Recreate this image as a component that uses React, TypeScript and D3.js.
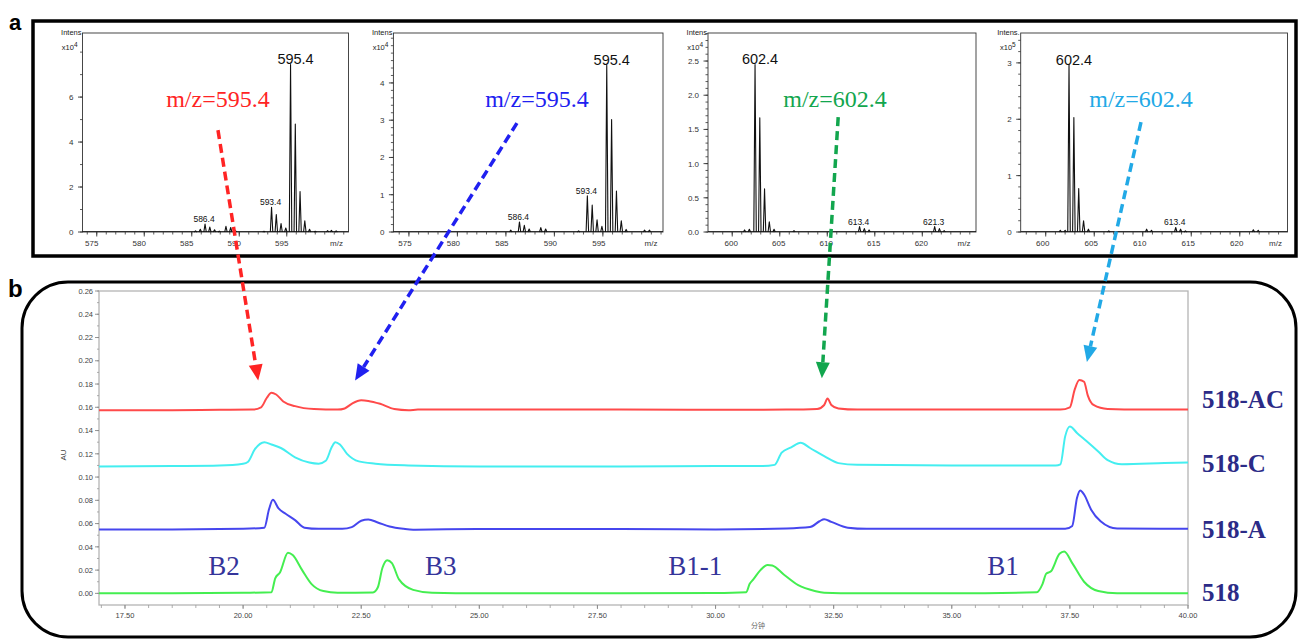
import React from "react";
import * as d3 from "d3";

type P = [number, number];

// ---------- panel a: mass spectra, [m/z, intensity] ----------
const spec1Peaks: P[] = [
  [585.4, 0.05], [585.9, 0.12], [586.4, 0.35], [586.9, 0.22], [587.4, 0.1], [587.9, 0.04],
  [588.6, 0.25], [589.1, 0.2], [589.6, 0.06], [592.6, 0.03], [593.4, 1.1], [593.9, 0.78],
  [594.4, 0.38], [594.9, 0.18], [595.4, 7.45], [595.9, 4.8], [596.4, 1.8], [596.9, 0.5],
  [597.4, 0.12], [598.0, 0.03], [599.3, 0.06], [599.7, 0.07], [600.2, 0.05],
];
const spec2Peaks: P[] = [
  [585.5, 0.05], [586.4, 0.27], [586.9, 0.18], [587.4, 0.08], [588.6, 0.12], [589.1, 0.08],
  [592.5, 0.03], [593.4, 0.97], [593.9, 0.72], [594.4, 0.33], [594.9, 0.15], [595.4, 4.47],
  [595.9, 3.02], [596.4, 1.1], [596.9, 0.3], [597.4, 0.07], [599.3, 0.05], [599.8, 0.05],
];
const spec3Peaks: P[] = [
  [601.3, 0.03], [601.8, 0.04], [602.4, 2.45], [602.9, 1.67], [603.4, 0.63], [603.9, 0.15],
  [604.4, 0.04], [606.5, 0.02], [610.4, 0.03], [613.4, 0.08], [613.9, 0.05], [614.4, 0.03],
  [621.3, 0.08], [621.8, 0.05], [622.3, 0.02],
];
const spec4Peaks: P[] = [
  [601.5, 0.03], [602.0, 0.03], [602.4, 2.97], [602.9, 2.03], [603.4, 0.77], [603.9, 0.2],
  [604.4, 0.05], [606.5, 0.02], [610.4, 0.05], [610.9, 0.03], [613.4, 0.08], [613.9, 0.05],
  [614.4, 0.02], [621.4, 0.04], [621.9, 0.03],
];

const spec1Labels = ["595.4", "593.4", "586.4"];
const spec2Labels = ["595.4", "593.4", "586.4"];
const spec3Labels = ["602.4", "613.4", "621.3"];
const spec4Labels = ["602.4", "613.4"];

const ionLabels = ["m/z=595.4", "m/z=595.4", "m/z=602.4", "m/z=602.4"];
const ionColors = ["#ff2424", "#2020f0", "#12a64e", "#22a9e6"];
// where the ion text sits and where its arrow starts, in spectrum units
const ionTextAt: P[] = [[587.76, 5.55], [588.2, 3.35], [610.82, 1.83], [609.82, 2.22]];
const arrowFrom: P[] = [[587.76, 4.53], [586.14, 2.92], [611.15, 1.68], [609.82, 1.95]];
// arrow tips in chromatogram units [min, AU]
const arrowTo: P[] = [[20.32, 0.183], [22.37, 0.183], [32.25, 0.185], [37.86, 0.199]];

// ---------- panel b: HPLC traces, [min, AU] ----------
const trace518AC: P[] = [
  [16.95, 0.1575], [18.5, 0.1575], [19.5, 0.1578], [20.2, 0.158], [20.38, 0.16], [20.5, 0.168],
  [20.6, 0.1725], [20.7, 0.171], [20.85, 0.165], [21.1, 0.161], [21.5, 0.1585], [22.0, 0.158],
  [22.15, 0.159], [22.3, 0.163], [22.5, 0.166], [22.65, 0.1655], [22.9, 0.163], [23.2, 0.1585],
  [23.5, 0.1575], [23.7, 0.158], [25, 0.158], [28, 0.158], [30, 0.1578], [31.5, 0.158],
  [32.15, 0.1585], [32.3, 0.162], [32.37, 0.1675], [32.45, 0.162], [32.6, 0.159], [33, 0.158],
  [35, 0.158], [37.3, 0.158], [37.5, 0.16], [37.6, 0.175], [37.7, 0.1835], [37.8, 0.182],
  [37.88, 0.17], [38.0, 0.162], [38.3, 0.1585], [39, 0.158], [40, 0.158],
];
const trace518C: P[] = [
  [16.95, 0.109], [18.5, 0.1095], [19.5, 0.11], [20.0, 0.1115], [20.1, 0.113], [20.25, 0.124],
  [20.45, 0.13], [20.6, 0.128], [20.8, 0.125], [21.1, 0.117], [21.4, 0.1125], [21.6, 0.1115],
  [21.75, 0.114], [21.88, 0.126], [21.95, 0.13], [22.05, 0.128], [22.2, 0.12], [22.45, 0.1135],
  [22.8, 0.1115], [23.5, 0.11], [25, 0.109], [28, 0.109], [30, 0.1095], [31.0, 0.1095],
  [31.25, 0.1105], [31.4, 0.121], [31.6, 0.1255], [31.8, 0.1295], [32.0, 0.125], [32.3, 0.118],
  [32.6, 0.112], [33, 0.1105], [35, 0.11], [37.2, 0.11], [37.3, 0.111], [37.4, 0.135],
  [37.5, 0.1435], [37.65, 0.138], [37.85, 0.131], [38.1, 0.122], [38.3, 0.1145], [38.6, 0.111],
  [39.5, 0.112], [40, 0.1125],
];
const trace518A: P[] = [
  [16.95, 0.055], [18.5, 0.055], [20.0, 0.0555], [20.45, 0.0565], [20.55, 0.0725], [20.63, 0.0805],
  [20.75, 0.073], [20.9, 0.0685], [21.1, 0.063], [21.3, 0.0565], [21.6, 0.0555], [22.1, 0.0555],
  [22.3, 0.057], [22.5, 0.0625], [22.65, 0.0635], [22.85, 0.061], [23.1, 0.0575], [23.4, 0.0555],
  [23.6, 0.0548], [25, 0.0553], [28, 0.0553], [30, 0.055], [31.5, 0.0558], [32.0, 0.057],
  [32.2, 0.062], [32.3, 0.0638], [32.45, 0.0615], [32.8, 0.0565], [33.2, 0.0555], [35, 0.0555],
  [37.4, 0.0555], [37.55, 0.058], [37.65, 0.082], [37.72, 0.0885], [37.8, 0.085], [37.95, 0.072],
  [38.15, 0.062], [38.5, 0.0558], [40, 0.0555],
];
const trace518: P[] = [
  [16.95, 0.0], [18.5, 0.0], [20.0, 0.0005], [20.6, 0.001], [20.68, 0.013], [20.78, 0.018],
  [20.95, 0.035], [21.05, 0.033], [21.25, 0.02], [21.45, 0.008], [21.7, 0.002], [22.0, 0.0005],
  [22.75, 0.0008], [22.85, 0.005], [22.95, 0.022], [23.05, 0.0285], [23.15, 0.026], [23.3, 0.012],
  [23.6, 0.003], [24, 0.0005], [25, 0.0], [28, 0.0], [30, 0.0003], [30.65, 0.001], [30.72, 0.008],
  [30.8, 0.012], [30.95, 0.02], [31.1, 0.0245], [31.2, 0.024], [31.45, 0.016], [31.75, 0.007],
  [32.1, 0.002], [32.3, 0.0005], [33, 0.0], [35, 0.0], [36.8, 0.001], [36.92, 0.008], [37.0, 0.017],
  [37.1, 0.019], [37.28, 0.034], [37.38, 0.036], [37.55, 0.026], [37.8, 0.01], [38.1, 0.002],
  [38.5, 0.0], [40, 0.0],
];

const traces = [trace518AC, trace518C, trace518A, trace518];
const traceNames = ["518-AC", "518-C", "518-A", "518"];
const traceColors = ["#ff4a4a", "#44eef0", "#4646ee", "#44ee50"];
const peakNames = ["B2", "B3", "B1-1", "B1"];
const peakNameTimes = [19.26, 23.85, 29.0, 35.75];

const SANS = "'Liberation Sans', Arial, sans-serif";
const SERIF = "'Liberation Serif', 'Times New Roman', serif";

const specTop = 33;
const specBot = 232;

const spectra = [
  { x0: 82.5, x1: 348.5, dom: [573.5, 601.5], yMax: 8.85, major: [0, 2, 4, 6], step: 1, dec: 0, expo: "4", xt: [575, 580, 585, 590, 595], ldx: -5, peaks: spec1Peaks, labels: spec1Labels, intens: "Intens" },
  { x0: 393.4, x1: 663, dom: [573.4, 601.2], yMax: 5.34, major: [0, 1, 2, 3, 4], step: 0.2, dec: 0, expo: "4", xt: [575, 580, 585, 590, 595], ldx: -4, peaks: spec2Peaks, labels: spec2Labels, intens: "Intens" },
  { x0: 708, x1: 976, dom: [597.45, 625.65], yMax: 2.91, major: [0, 0.5, 1, 1.5, 2, 2.5], step: 0.1, dec: 1, expo: "4", xt: [600, 605, 610, 615, 620], ldx: -1, peaks: spec3Peaks, labels: spec3Labels, intens: "Intens" },
  { x0: 1020.7, x1: 1287.5, dom: [597.42, 624.92], yMax: 3.53, major: [0, 1, 2, 3], step: 0.2, dec: 0, expo: "5", xt: [600, 605, 610, 615, 620], ldx: -3, peaks: spec4Peaks, labels: spec4Labels, intens: "Intens." },
];

function specScales(s: any) {
  const x = d3.scaleLinear().domain(s.dom).range([s.x0, s.x1]);
  const y = d3.scaleLinear().domain([0, s.yMax]).range([specBot, specTop]);
  return { x, y };
}

function Spectrum({ s }: { s: any }) {
  const { x, y } = specScales(s);
  const w = 0.13;
  const peakPath = s.peaks
    .map(([m, v]: P) => `M${x(m - w)},${specBot}L${x(m)},${y(v)}L${x(m + w)},${specBot}`)
    .join("");
  const minorY = d3.range(0, s.yMax, s.step);
  const minorX = d3.range(Math.ceil(s.dom[0]), s.dom[1], 1);
  return (
    <g fontFamily={SANS}>
      <rect x={s.x0} y={specTop} width={s.x1 - s.x0} height={specBot - specTop} fill="none" stroke="#333" strokeWidth={0.9} />
      {minorY.map((v: number) => (
        <line key={"my" + v} x1={s.x0 - 2.5} x2={s.x0} y1={y(v)} y2={y(v)} stroke="#333" strokeWidth={0.8} />
      ))}
      {s.major.map((v: number) => (
        <g key={"y" + v}>
          <line x1={s.x0 - 4.5} x2={s.x0} y1={y(v)} y2={y(v)} stroke="#333" strokeWidth={0.9} />
          <text x={s.x0 - 9} y={y(v) + 3} fontSize={8} textAnchor="end" fill="#333">{v.toFixed(s.dec)}</text>
        </g>
      ))}
      {minorX.map((v: number) => (
        <line key={"mx" + v} x1={x(v)} x2={x(v)} y1={specBot} y2={specBot + 2.5} stroke="#333" strokeWidth={0.8} />
      ))}
      {s.xt.map((v: number) => (
        <g key={"x" + v}>
          <line x1={x(v)} x2={x(v)} y1={specBot} y2={specBot + 4.5} stroke="#333" strokeWidth={0.9} />
          <text x={x(v) + s.ldx} y={specBot + 14} fontSize={8} textAnchor="middle" fill="#333">{v}</text>
        </g>
      ))}
      <text x={s.x1 - 12} y={specBot + 14} fontSize={8} textAnchor="middle" fill="#333">m/z</text>
      <text x={s.x0 - 1} y={specTop + 2} fontSize={7.5} textAnchor="end" fill="#222">{s.intens}</text>
      <text x={s.x0 - 5} y={specTop + 17} fontSize={7.5} textAnchor="end" fill="#222">
        x10<tspan dy={-3} fontSize={6.5}>{s.expo}</tspan>
      </text>
      <line x1={s.x0} x2={s.x1} y1={specBot - 0.5} y2={specBot - 0.5} stroke="#111" strokeWidth={0.8} />
      <path d={peakPath} fill="none" stroke="#111" strokeWidth={1.1} strokeLinejoin="round" />
      {s.labels.map((lab: string, i: number) => {
        const m = parseFloat(lab);
        const pk = s.peaks.reduce((a: P, b: P) => (Math.abs(b[0] - m) < Math.abs(a[0] - m) ? b : a));
        const big = i === 0;
        return (
          <text key={lab} x={x(m) + (big ? 5 : -1)} y={y(pk[1]) - (big ? 0 : 2)} fontSize={big ? 14.5 : 8.5}
            textAnchor="middle" fill="#111">{lab}</text>
        );
      })}
    </g>
  );
}

export default function App() {
  const W = 1298, H = 640;
  const xC = d3.scaleLinear().domain([16.95, 40]).range([99, 1188]);
  const yC = d3.scaleLinear().domain([-0.01, 0.26]).range([605, 291]);
  const line = d3.line<P>().x((d) => xC(d[0])).y((d) => yC(d[1])).curve(d3.curveMonotoneX);
  const xMajor = d3.range(17.5, 40.01, 2.5);
  const xMinor = d3.range(17, 40.01, 0.5);
  const yMajor = d3.range(0, 0.261, 0.02);
  const yMinor = d3.range(0, 0.261, 0.01);

  const arrows = ionLabels.map((_, i) => {
    const { x, y } = specScales(spectra[i]);
    const sx = x(arrowFrom[i][0]), sy = y(arrowFrom[i][1]);
    const tx = xC(arrowTo[i][0]), ty = yC(arrowTo[i][1]);
    const len = Math.hypot(tx - sx, ty - sy);
    const ux = (tx - sx) / len, uy = (ty - sy) / len;
    const L = 16, hw = 7;
    const bx = tx - ux * L, by = ty - uy * L;
    const head = `${tx},${ty} ${bx - uy * hw},${by + ux * hw} ${bx + uy * hw},${by - ux * hw}`;
    return { sx, sy, bx, by, head, tx: x(ionTextAt[i][0]), ty: y(ionTextAt[i][1]) };
  });

  return (
    <svg width={W} height={H} style={{ position: "absolute", left: 0, top: 0, background: "#fff" }}>
      <rect width={W} height={H} fill="#fff" />
      {/* panel a */}
      <text x={9} y={30} fontFamily={SANS} fontWeight="bold" fontSize={22}>a</text>
      <rect x={33} y={21} width={1263} height={235} fill="none" stroke="#000" strokeWidth={3.5} />
      {spectra.map((s, i) => <Spectrum key={i} s={s} />)}

      {/* panel b */}
      <text x={8} y={297} fontFamily={SANS} fontWeight="bold" fontSize={24}>b</text>
      <rect x={22} y={282} width={1274} height={355} rx={46} ry={46} fill="none" stroke="#000" strokeWidth={3} />
      <g fontFamily={SANS}>
        <rect x={99} y={291} width={1188 - 99} height={605 - 291} fill="none" stroke="#b4b4b4" strokeWidth={1.3} />
        {yMinor.map((v) => (
          <line key={"cym" + v} x1={97} x2={99} y1={yC(v)} y2={yC(v)} stroke="#999" strokeWidth={0.8} />
        ))}
        {yMajor.map((v) => (
          <g key={"cy" + v}>
            <line x1={95} x2={99} y1={yC(v)} y2={yC(v)} stroke="#888" strokeWidth={0.9} />
            <text x={93} y={yC(v) + 2.7} fontSize={7.5} textAnchor="end" fill="#444">{v.toFixed(2)}</text>
          </g>
        ))}
        {xMinor.map((v) => (
          <line key={"cxm" + v} x1={xC(v)} x2={xC(v)} y1={605} y2={608} stroke="#999" strokeWidth={0.8} />
        ))}
        {xMajor.map((v) => (
          <g key={"cx" + v}>
            <line x1={xC(v)} x2={xC(v)} y1={605} y2={609} stroke="#888" strokeWidth={0.9} />
            <text x={xC(v)} y={618} fontSize={7.5} textAnchor="middle" fill="#444">{v.toFixed(2)}</text>
          </g>
        ))}
        <text transform="translate(66,455) rotate(-90)" fontSize={8} textAnchor="middle" fill="#444">AU</text>
        <text x={758} y={628} fontSize={7} textAnchor="middle" fill="#666" fontFamily="'Noto Sans CJK SC', sans-serif">分钟</text>
      </g>
      {traces.map((t, i) => (
        <path key={traceNames[i]} d={line(t) || ""} fill="none" stroke={traceColors[i]} strokeWidth={2} strokeLinejoin="round" />
      ))}
      {traceNames.map((n, i) => (
        <text key={n} x={1202} y={[408, 472, 538, 601][i]} fontFamily={SERIF} fontWeight="bold" fontSize={25} fill="#2b2b87">{n}</text>
      ))}
      {peakNames.map((n, i) => (
        <text key={n} x={xC(peakNameTimes[i])} y={575} fontFamily={SERIF} fontSize={27} fill="#34349a">{n}</text>
      ))}

      {/* ion annotations and arrows */}
      {arrows.map((a, i) => (
        <g key={"ar" + i}>
          <text x={a.tx} y={a.ty} fontFamily={SERIF} fontSize={24} textAnchor="middle" fill={ionColors[i]}>{ionLabels[i]}</text>
          <line x1={a.sx} y1={a.sy} x2={a.bx} y2={a.by} stroke={ionColors[i]} strokeWidth={3.5} strokeDasharray="9 5" />
          <polygon points={a.head} fill={ionColors[i]} />
        </g>
      ))}
    </svg>
  );
}
